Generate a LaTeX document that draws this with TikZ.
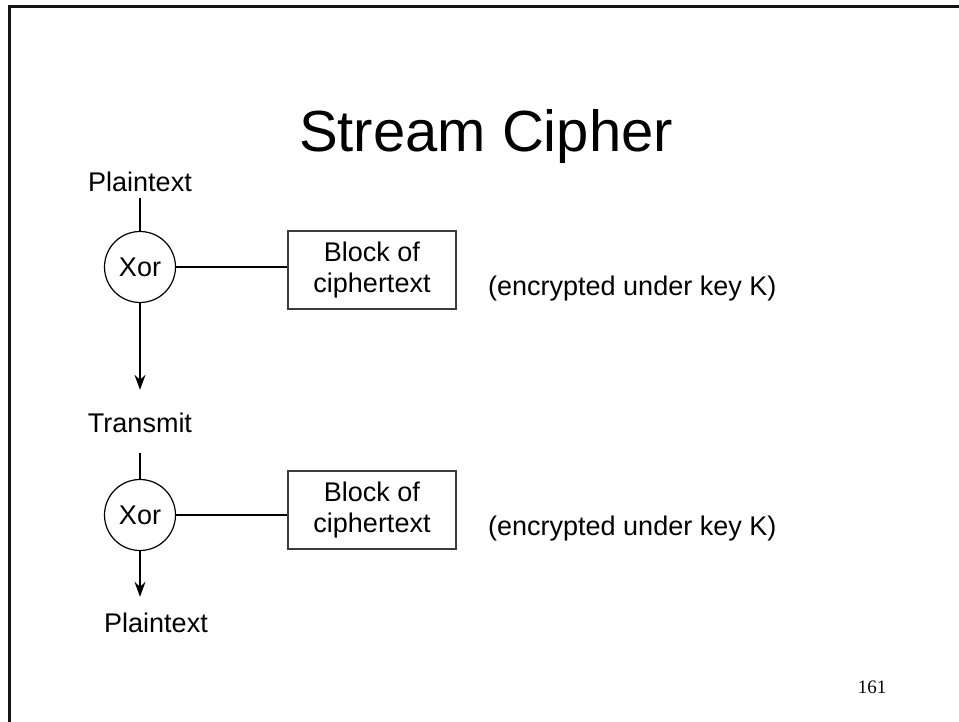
\documentclass[tikz,border=0pt]{standalone}
\usepackage{fontspec}
\setmainfont{Liberation Sans}
\newfontfamily\pagenumfont{Liberation Serif}
\usepackage{xcolor}
\definecolor{ink}{RGB}{0,0,0}
\definecolor{edge}{RGB}{60,60,60}
\definecolor{frame}{RGB}{20,20,20}
\usetikzlibrary{arrows.meta,positioning,calc}

\begin{document}
\begin{tikzpicture}[x=1pt,y=-1pt,
        flowtext/.style={inner sep=0pt, anchor=base, text height=19pt, text depth=0pt, font=\fontsize{27pt}{32pt}\selectfont},
        xorgate/.style={circle, draw=ink, line width=1.2pt, minimum size=71pt, inner sep=0pt, font=\fontsize{27pt}{32pt}\selectfont},
        block/.style={rectangle, draw=edge, line width=1.5pt, minimum width=168pt, minimum height=78pt, align=center, font=\fontsize{27pt}{31pt}\selectfont},
        note/.style={inner sep=0pt, anchor=base west, font=\fontsize{27pt}{32pt}\selectfont},
        link/.style={ink, line width=1.2pt},
        flow/.style={-{Stealth[length=15pt,width=11pt,inset=5pt]}, ink, line width=1.2pt}
    ]
        \useasboundingbox (0,0) rectangle (959,722);
        \draw[frame, line width=3pt] (9,730) -- (9,7) -- (965,7);

        \node[inner sep=0pt, anchor=base, font=\fontsize{58pt}{70pt}\selectfont] (title) at (486,152) {Stream Cipher};

        % sender side
        \node[flowtext] (plainA) at (140,192) {Plaintext};
        \node[xorgate] (xorA) at (140,267) {Xor};
        \node[block] (boxA) at (372,270) {Block of\\ciphertext};
        \node[note] (noteA) at (488,295) {(encrypted under key K)};
        \node[flowtext] (transmit) at (140,432) {Transmit};

        % receiver side
        \node[xorgate] (xorB) at (140,515) {Xor};
        \node[block] (boxB) at (372,510) {Block of\\ciphertext};
        \node[note] (noteB) at (488,535) {(encrypted under key K)};
        \node[flowtext] (plainB) at (156,632) {Plaintext};
        \path (plainB.north) ++(0,-16) coordinate (tipB);

        \node[inner sep=0pt, anchor=base, font=\pagenumfont\fontsize{19pt}{23pt}\selectfont] (pagenum) at (872,693) {161};

        \draw[link] ([yshift=-6pt]plainA.south) -- (xorA.north);
        \draw[link] (xorA) -- (xorA -| boxA.west);
        \draw[flow] (xorA.south) -- ([yshift=23pt]transmit.north);
        \draw[link] ([yshift=-21pt]transmit.south) -- (xorB.north);
        \draw[link] (xorB) -- (xorB -| boxB.west);
        \draw[flow] (xorB.south) -- (xorB.south |- tipB);
    \end{tikzpicture}
\end{document}
